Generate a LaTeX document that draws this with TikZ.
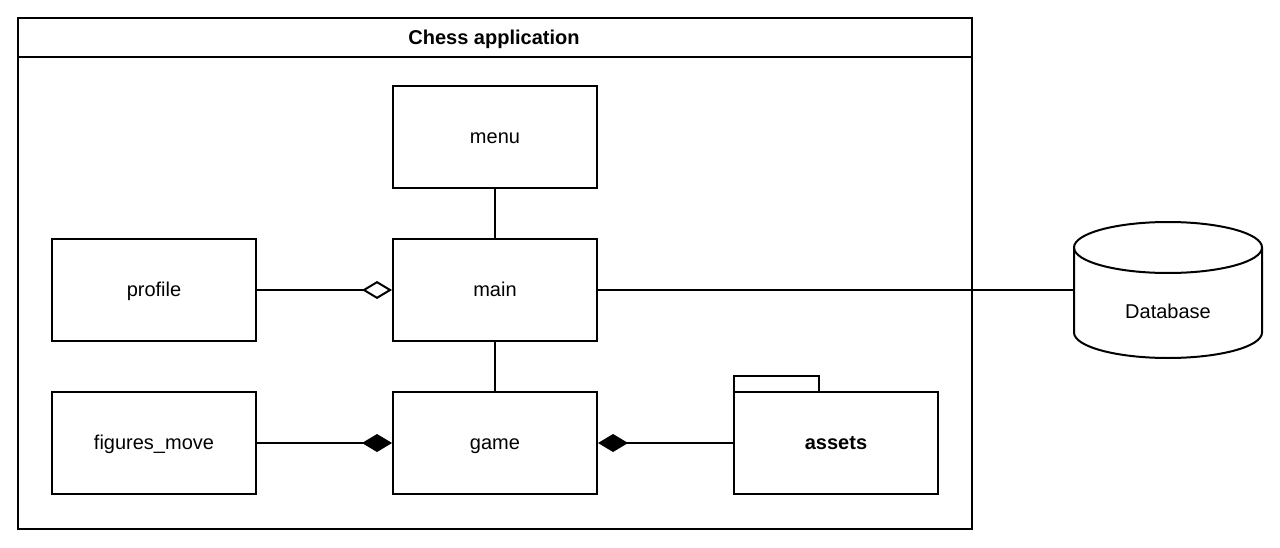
\documentclass[tikz,border=0pt]{standalone}
\usepackage{fontspec}
\setmainfont{Liberation Sans}
\usetikzlibrary{arrows.meta}
\begin{document}
\begin{tikzpicture}[x=0.75pt,y=0.75pt,line width=1.5pt,
  font=\fontsize{15}{18}\selectfont,
  txt/.style={text height=12.5pt,text depth=2.5pt},
  comp/.style={draw,rectangle,inner sep=0pt,minimum width=153pt,minimum height=76.5pt,txt},
  aggr/.style={draw,{Diamond[open,length=22.5pt,width=13.5pt,line width=1.5pt]}-},
  compo/.style={draw,{Diamond[length=22.5pt,width=13.5pt]}-}]
\useasboundingbox (0,0) rectangle (1280,547);
% frame
\draw (18,18) rectangle (972,529);
\draw (18,490) -- (972,490);
\node[font=\fontsize{15}{18}\selectfont\bfseries,txt] (title) at (494,509) {Chess application};
% components
\node[comp] (menu) at (495,410) {menu};
\node[comp] (profile) at (154,257) {profile};
\node[comp] (main) at (495,257) {main};
\node[comp] (figs) at (154,104) {figures\_move};
\node[comp] (game) at (495,104) {game};
\node[comp,font=\fontsize{15}{18}\selectfont\bfseries] (assets) at (836,104) {assets};
\draw (734,155) rectangle (819,171);
% database
\draw (1074,299.5) -- (1074,214.5) arc[start angle=180,end angle=360,x radius=94,y radius=25.5] -- (1262,299.5);
\draw (1168,299.5) ellipse[x radius=94,y radius=25.5];
\node[txt] (db) at (1168,235) {Database};
\coordinate (dbw) at (1074,257);
% connectors
\draw (menu) -- (main);
\draw (main) -- (game);
\draw[aggr] (main.west) -- (profile.east);
\draw[compo] (game.west) -- (figs.east);
\draw[compo] (game.east) -- (assets.west);
\draw (main.east) -- (dbw);
\end{tikzpicture}
\end{document}
